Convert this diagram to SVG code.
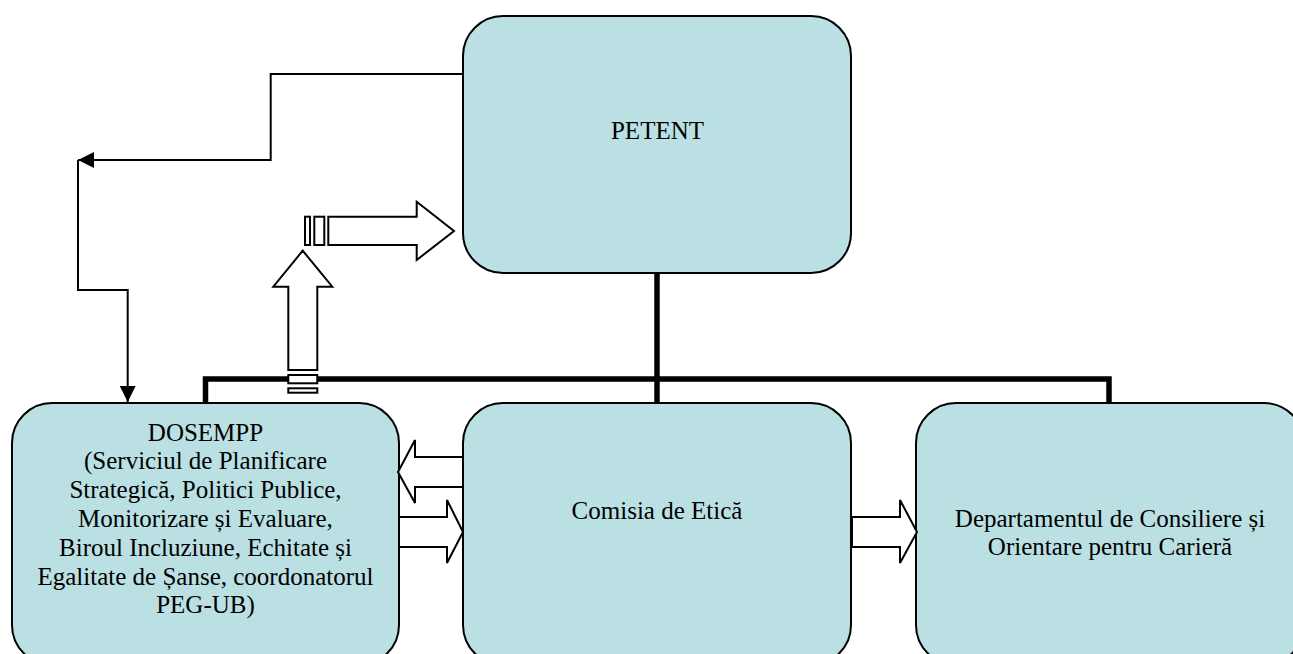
<svg xmlns="http://www.w3.org/2000/svg" width="1293" height="654" viewBox="0 0 1293 654">
<style>
.box{fill:#BAE0E3;stroke:#000;stroke-width:2}
.t{font-family:"Liberation Serif","Times New Roman",serif;font-size:25px;fill:#000;text-anchor:middle}
.thin{fill:none;stroke:#000;stroke-width:2}
.bus{fill:none;stroke:#000;stroke-width:5.5}
.blk{fill:#fff;stroke:#000;stroke-width:2;stroke-linejoin:miter}
</style>
<defs>
<marker id="ah" markerUnits="userSpaceOnUse" markerWidth="18" markerHeight="16" refX="16" refY="8" orient="auto">
<path d="M0,0 L16,8 L0,16 z" fill="#000"/>
</marker>
</defs>
<rect width="1293" height="654" fill="#fff"/>
<g id="petent">
<rect class="box" x="463" y="16" width="388" height="257" rx="40" ry="40"/>
<text class="t" x="657.5" y="139">PETENT</text>
</g>
<g id="dosempp">
<rect class="box" x="12" y="403" width="387" height="262" rx="40" ry="40"/>
<text class="t" x="205.5" y="440.5">DOSEMPP</text>
<text class="t" x="205.5" y="469.3">(Serviciul de Planificare</text>
<text class="t" x="205.5" y="498.1">Strategică, Politici Publice,</text>
<text class="t" x="205.5" y="526.9">Monitorizare și Evaluare,</text>
<text class="t" x="205.5" y="555.7">Biroul Incluziune, Echitate și</text>
<text class="t" x="205.5" y="584.5">Egalitate de Șanse, coordonatorul</text>
<text class="t" x="205.5" y="613.3">PEG-UB)</text>
</g>
<g id="comisia">
<rect class="box" x="463" y="403" width="388" height="262" rx="40" ry="40"/>
<text class="t" x="657" y="519">Comisia de Etică</text>
</g>
<g id="departament">
<rect class="box" x="916" y="403" width="388" height="262" rx="40" ry="40"/>
<text class="t" x="1110" y="526.5">Departamentul de Consiliere și</text>
<text class="t" x="1110" y="555.3">Orientare pentru Carieră</text>
</g>
<g id="connectors">
<path class="bus" d="M205.5,403 V379 H1109 V403"/>
<path class="bus" d="M657,273 V403"/>
<path class="thin" d="M463,74 H270.7 V160 H78" marker-end="url(#ah)"/>
<path class="thin" d="M78,160 V290 H127.7 V402" marker-end="url(#ah)"/>
<polygon class="blk" points="463,457 415,457 415,440 398,472 415,503 415,487 463,487"/>
<polygon class="blk" points="399,517 447,517 447,500 463,532 447,563 447,547 399,547"/>
<polygon class="blk" points="852,517 900,517 900,500 917,532 900,563 900,547 852,547"/>
<rect class="blk" x="305" y="216.7" width="5" height="28.3"/>
<rect class="blk" x="314.3" y="216.7" width="10" height="28.3"/>
<polygon class="blk" points="328.3,216.7 416.7,216.7 416.7,201.7 454,231 416.7,260 416.7,245 328.3,245"/>
<polygon class="blk" points="288.3,370 288.3,286.7 273.3,286.7 302.7,250.7 332.3,286.7 317.3,286.7 317.3,370"/>
<rect class="blk" x="288.3" y="375" width="29" height="8.3"/>
<rect class="blk" x="288.3" y="388.3" width="29" height="4.4"/>
</g>
</svg>
